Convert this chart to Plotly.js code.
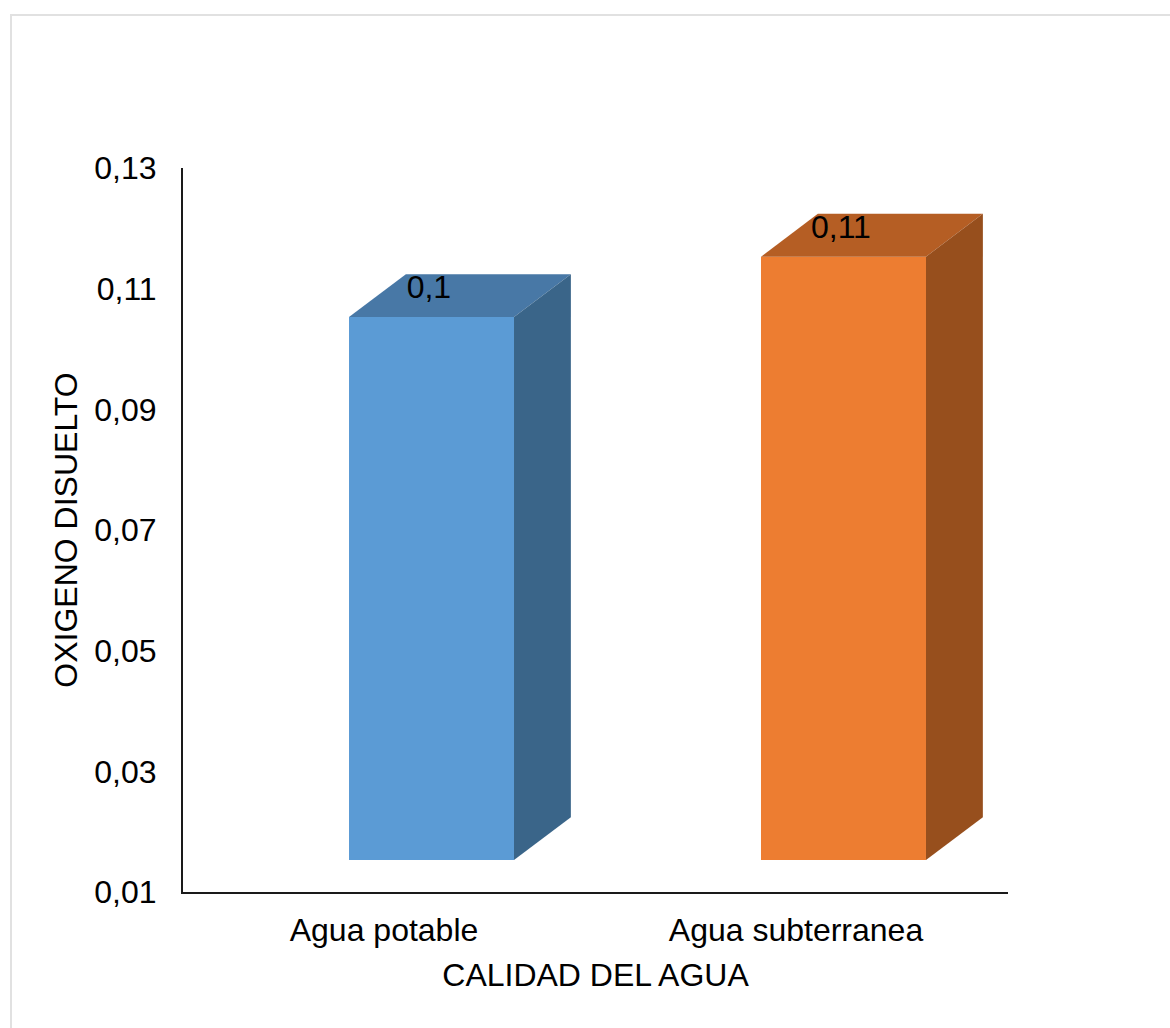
<!DOCTYPE html>
<html>
<head>
<meta charset="utf-8">
<script src="https://cdn.plot.ly/plotly-3.0.1.min.js"></script>
<style>
  html, body { margin: 0; padding: 0; background: #fff; width: 1170px; height: 1028px; overflow: hidden; }
  #frame { position: absolute; left: 10px; top: 14px; width: 1160px; height: 1014px; box-sizing: border-box;
           border-left: 2px solid #e1e1e1; border-top: 2px solid #e1e1e1; }
  #chart { position: absolute; left: 0; top: 0; width: 1170px; height: 1028px; }
</style>
</head>
<body>
<div id="frame"></div>
<div id="chart"></div>
<script>
// Dissolved oxygen by water quality
const categories = ['Agua potable', 'Agua subterranea'];
const values = [0.1, 0.11];
const yTicks = [0.01, 0.03, 0.05, 0.07, 0.09, 0.11, 0.13];

const frontColors = ['#5B9BD5', '#ED7D31'];
const topColors = ['#4878A6', '#B55E24'];
const sideColors = ['#3A6589', '#974F1D'];

// Pseudo-3D box geometry, in axis units
const yFloor = 0.01;
const lift = 0.0053;     // front face sits above the floor
const depthY = 0.0071;   // upward skew of the back edge
const depthX = 0.138;    // rightward skew of the back edge
const barWidth = 0.4005;
const barShift = 0.1153; // front face centre relative to the category tick
const labelShiftX = 0.109;
const labelShiftY = 0.0098;

const xPos = categories.map((_, i) => i);
const font = 'Liberation Sans, Arial, sans-serif';

const traces = [{
  type: 'bar',
  x: xPos,
  y: values.map(v => v - yFloor),
  base: values.map(() => yFloor + lift),
  width: barWidth,
  offset: barShift - barWidth / 2,
  marker: { color: frontColors, line: { width: 0 } },
  hoverinfo: 'skip'
}];

xPos.forEach((p, i) => {
  const xl = p + barShift - barWidth / 2;
  const xr = p + barShift + barWidth / 2;
  const yt = values[i] + lift;
  const yb = yFloor + lift;
  // top face
  traces.push({
    type: 'scatter', mode: 'lines', fill: 'toself', line: { width: 0 },
    fillcolor: topColors[i], hoverinfo: 'skip',
    x: [xl, xl + depthX, xr + depthX, xr, xl],
    y: [yt, yt + depthY, yt + depthY, yt, yt]
  });
  // side face
  traces.push({
    type: 'scatter', mode: 'lines', fill: 'toself', line: { width: 0 },
    fillcolor: sideColors[i], hoverinfo: 'skip',
    x: [xr, xr + depthX, xr + depthX, xr, xr],
    y: [yt, yt + depthY, yb + depthY, yb, yt]
  });
});

// Value labels
traces.push({
  type: 'scatter', mode: 'text',
  x: xPos.map(p => p + labelShiftX),
  y: values.map(v => v + labelShiftY),
  text: values.map(v => String(v).replace('.', ',')),
  textposition: 'middle center',
  textfont: { family: font, size: 32, color: '#000' },
  cliponaxis: false, hoverinfo: 'skip'
});

const layout = {
  width: 1170, height: 1028,
  margin: { l: 183, r: 162, t: 168, b: 136, pad: 0 },
  paper_bgcolor: 'rgba(0,0,0,0)', plot_bgcolor: 'rgba(0,0,0,0)',
  showlegend: false,
  separators: ', ',
  font: { family: font, size: 32, color: '#000' },
  xaxis: {
    range: [-0.4879, 1.5146],
    tickvals: xPos, ticktext: categories,
    ticks: '', showgrid: false, zeroline: false,
    showline: true, linecolor: '#1a1a1a', linewidth: 2,
    ticklabelstandoff: 9,
    tickfont: { family: font, size: 32, color: '#000' },
    title: { text: 'CALIDAD DEL AGUA', standoff: 16, font: { family: font, size: 32, color: '#000' } }
  },
  yaxis: {
    range: [0.01, 0.13],
    tickvals: yTicks, tickformat: '.2f',
    ticks: '', showgrid: false, zeroline: false,
    showline: true, linecolor: '#1a1a1a', linewidth: 2,
    ticklabelstandoff: 18,
    tickfont: { family: font, size: 32, color: '#000' },
    title: { text: 'OXIGENO DISUELTO', standoff: 7, font: { family: font, size: 32, color: '#000' } }
  }
};

Plotly.newPlot('chart', traces, layout, { displayModeBar: false, staticPlot: true });
</script>
</body>
</html>
